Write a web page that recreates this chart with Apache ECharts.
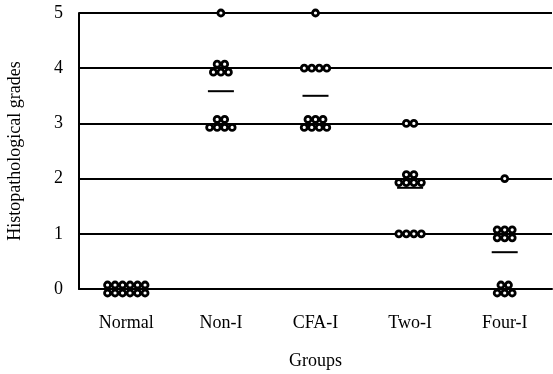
<!DOCTYPE html>
<html>
<head>
<meta charset="utf-8">
<script src="https://cdn.jsdelivr.net/npm/echarts@6/dist/echarts.min.js"></script>
<style>html,body{margin:0;padding:0;background:#fff}#c{width:553px;height:374px}</style>
</head>
<body>
<div id="c"></div>
<script>
// ---- data ----
const categories = ['Normal', 'Non-I', 'CFA-I', 'Two-I', 'Four-I'];
const grades = [0, 1, 2, 3, 4, 5];
// number of animals at each grade (index = grade 0..5)
const countsNormal = [12, 0, 0, 0, 0, 0];
const countsNonI   = [0, 0, 0, 6, 5, 1];
const countsCFAI   = [0, 0, 0, 7, 4, 1];
const countsTwoI   = [0, 4, 6, 2, 0, 0];
const countsFourI  = [5, 6, 1, 0, 0, 0];
const yTicks = [0, 1, 2, 3, 4, 5];

// ---- layout (style only): how many dots go in the upper row of a stacked cluster (0 = single row)
const upperRow = {
  'Normal': {0: 6},
  'Non-I': {3: 2, 4: 2},
  'CFA-I': {3: 3},
  'Two-I': {2: 2},
  'Four-I': {0: 2, 1: 3}
};

const allCounts = [countsNormal, countsNonI, countsCFAI, countsTwoI, countsFourI];
const PITCH = 7.5, ROWOFF = 4;
const dots = [];
const means = [];
allCounts.forEach((counts, ci) => {
  let sum = 0, n = 0;
  counts.forEach((cnt, gi) => {
    if (!cnt) return;
    const g = grades[gi];
    sum += g * cnt; n += cnt;
    const up = (upperRow[categories[ci]] || {})[g] || 0;
    const rows = up ? [[up, -ROWOFF], [cnt - up, ROWOFF]] : [[cnt, 0]];
    rows.forEach(([k, dy]) => {
      for (let j = 0; j < k; j++) {
        dots.push({ value: [ci, g], symbolOffset: [(j - (k - 1) / 2) * PITCH, dy] });
      }
    });
  });
  if (ci > 0) means.push([ci, sum / n]);
});

const font = 'Liberation Serif';
const chart = echarts.init(document.getElementById('c'));
chart.setOption({
  animation: false,
  backgroundColor: '#fff',
  grid: { left: 79, right: 1, top: 13, bottom: 85, containLabel: false, outerBoundsMode: 'none' },
  xAxis: {
    type: 'category',
    data: categories,
    name: 'Groups',
    nameLocation: 'middle',
    nameGap: 63,
    nameTextStyle: { fontFamily: font, fontSize: 18, color: '#000' },
    axisLine: { lineStyle: { color: '#000', width: 2 } },
    axisTick: { show: false },
    axisLabel: { fontFamily: font, fontSize: 18, color: '#000', margin: 25 },
    splitLine: { show: false }
  },
  yAxis: {
    type: 'value',
    min: 0, max: 5, interval: 1,
    name: 'Histopathological grades',
    nameLocation: 'middle',
    nameGap: 55,
    nameTextStyle: { fontFamily: font, fontSize: 18, color: '#000' },
    axisLine: { show: true, lineStyle: { color: '#000', width: 2 } },
    axisTick: { show: false },
    axisLabel: { fontFamily: font, fontSize: 18, color: '#000', margin: 16,
      formatter: v => yTicks.includes(v) ? String(v) : '' },
    splitLine: { show: true, lineStyle: { color: '#000', width: 2 } }
  },
  series: [
    {
      type: 'scatter',
      data: dots,
      symbol: 'circle',
      symbolSize: 6,
      itemStyle: { color: '#fff', borderColor: '#000', borderWidth: 2.8, opacity: 1 },
      z: 3
    },
    {
      type: 'scatter',
      data: means,
      symbol: 'rect',
      symbolSize: [26, 2],
      itemStyle: { color: '#000', opacity: 1 },
      z: 4
    }
  ]
});
</script>
</body>
</html>
